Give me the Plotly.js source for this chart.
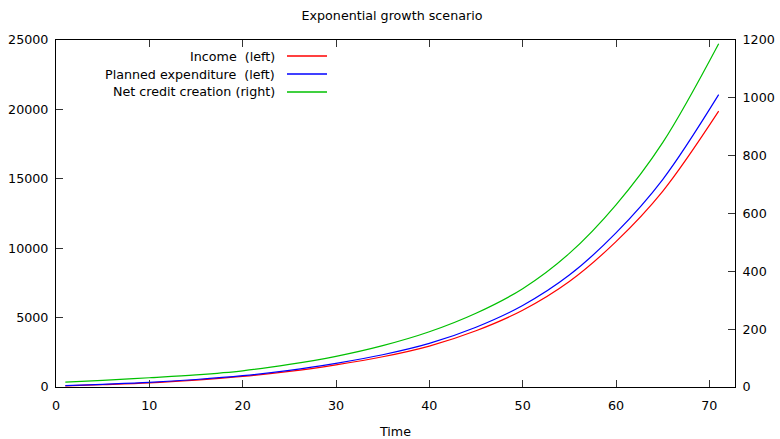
<!DOCTYPE html>
<html>
<head>
<meta charset="utf-8">
<script src="https://cdn.plot.ly/plotly-3.0.1.min.js"></script>
<style>html,body{margin:0;padding:0;background:#fff;}#chart{width:780px;height:439px;}</style>
</head>
<body>
<div id="chart"></div>
<script>
const time = [1, 5, 10, 15, 20, 25, 30, 35, 40, 45, 50, 55, 60, 65, 71];
const income = [80, 170, 300, 500, 760, 1120, 1600, 2180, 2950, 4050, 5530, 7600, 10475, 14100, 19874];
const expenditure = [97, 193, 332, 542, 816, 1198, 1706, 2323, 3141, 4305, 5870, 8062, 11105, 14945, 21061];
const netCredit = [17, 23, 32, 42, 56, 78, 106, 143, 191, 255, 340, 462, 630, 845, 1187];
const seriesNames = ['Income\u00a0 (left)', 'Planned expenditure\u00a0 (left)', 'Net credit creation (right)'];
const seriesColors = ['#ff0000', '#0000ff', '#00c000'];

const W = 780, H = 439;
const L = 56, R = 735, T = 40, B = 387;
const font = {family: 'DejaVu Sans', size: 12.7, color: '#000'};

const traces = [
  {x: time, y: income, yaxis: 'y', name: seriesNames[0]},
  {x: time, y: expenditure, yaxis: 'y', name: seriesNames[1]},
  {x: time, y: netCredit, yaxis: 'y2', name: seriesNames[2]}
].map((t, i) => Object.assign(t, {
  type: 'scatter', mode: 'lines', showlegend: false,
  line: {color: seriesColors[i], width: 1.2, shape: 'spline', smoothing: 1}
}));

const px2x = p => (p - L) / (R - L);
const px2y = p => (B - p) / (B - T);

const annotations = [], shapes = [];
const rowY = [56, 74, 92];
seriesNames.forEach((n, i) => {
  annotations.push({xref: 'paper', yref: 'paper', x: px2x(277), y: px2y(rowY[i]),
    xanchor: 'right', yanchor: 'middle', text: n, showarrow: false, font: font});
  shapes.push({type: 'line', xref: 'paper', yref: 'paper',
    x0: px2x(287), x1: px2x(327), y0: px2y(rowY[i]), y1: px2y(rowY[i]),
    line: {color: seriesColors[i], width: 1.3}});
});

const layout = {
  width: W, height: H,
  margin: {l: L, r: W - R, t: T, b: H - B, pad: 0},
  paper_bgcolor: '#fff', plot_bgcolor: '#fff',
  font: font,
  title: {text: 'Exponential growth scenario', font: font, xref: 'container', yref: 'container',
    x: 392 / W, y: 1 - 16 / H, xanchor: 'center', yanchor: 'middle'},
  xaxis: {range: [0, 72.75], dtick: 10, tick0: 0, showgrid: false, zeroline: false,
    showline: true, linecolor: '#000', linewidth: 1, mirror: 'ticks',
    ticks: 'inside', ticklen: 7, tickcolor: '#333', tickfont: font,
    ticklabelstandoff: 7,
    title: {text: 'Time', font: font, standoff: 17}},
  yaxis: {range: [0, 25000], dtick: 5000, tick0: 0, tickformat: 'd', showgrid: false, zeroline: false,
    showline: true, linecolor: '#000', linewidth: 1,
    ticks: 'inside', ticklen: 7, tickcolor: '#333', tickfont: font,
    ticklabelstandoff: 4},
  yaxis2: {range: [0, 1200], dtick: 200, tick0: 0, tickformat: 'd', overlaying: 'y', side: 'right',
    showgrid: false, zeroline: false, showline: true, linecolor: '#000', linewidth: 1,
    ticks: 'inside', ticklen: 7, tickcolor: '#333', tickfont: font,
    ticklabelstandoff: 4},
  annotations: annotations,
  shapes: shapes
};

Plotly.newPlot('chart', traces, layout, {staticPlot: true, displayModeBar: false});
</script>
</body>
</html>
